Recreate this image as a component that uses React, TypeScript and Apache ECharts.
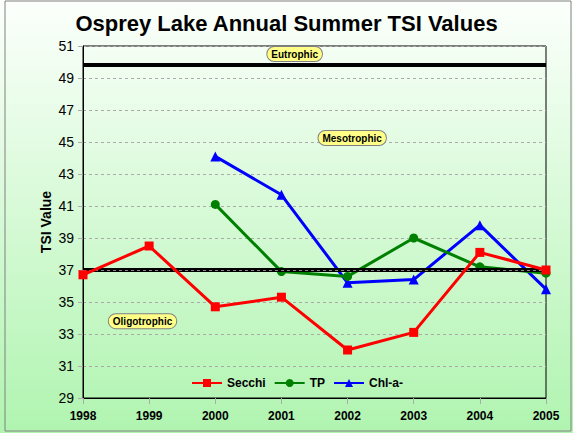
import React, { useEffect, useRef } from "react";
import * as echarts from "echarts";

const years = [1998, 1999, 2000, 2001, 2002, 2003, 2004, 2005];
const secchi = [36.7, 38.5, 34.7, 35.3, 32.0, 33.1, 38.1, 37.0];
const tp = [null, null, 41.1, 36.9, 36.6, 39.0, 37.2, 36.8];
const chla = [null, null, 44.1, 41.7, 36.2, 36.4, 39.8, 35.8];
const eutrophicLine = 49.8;
const oligotrophicLine = 37.0;
const zoneLabels = [
  { name: "Eutrophic", x: 2001.2, y: 50.5 },
  { name: "Mesotrophic", x: 2002.07, y: 45.25 },
  { name: "Oligotrophic", x: 1998.9, y: 33.8 },
];

const FONT = "'Liberation Sans', Arial, sans-serif";

function pairs(vals: (number | null)[]) {
  return years.map((y, i) => [y, vals[i]]).filter((p) => p[1] !== null);
}

export default function App() {
  const ref = useRef<HTMLDivElement>(null);
  useEffect(() => {
    const chart = echarts.init(ref.current!, undefined, { renderer: "svg" });
    const labelStyle = {
      show: true,
      position: "inside",
      formatter: "{b}",
      color: "#000",
      fontFamily: FONT,
      fontWeight: "bold",
      fontSize: 10,
      backgroundColor: "#ffff88",
      borderColor: "#808080",
      borderWidth: 1,
      borderRadius: 8,
      padding: [2, 4, 2, 4],
    };
    chart.setOption({
      animation: false,
      backgroundColor: new echarts.graphic.LinearGradient(0, 0, 0, 1, [
        { offset: 0, color: "#fcfffc" },
        { offset: 1, color: "#b0f4b0" },
      ]),
      graphic: [
        {
          type: "rect",
          shape: { x: 5, y: 1, width: 566, height: 430 },
          style: { fill: "none", stroke: "#808080", lineWidth: 1 },
          silent: true,
        },
      ],
      title: {
        text: "Osprey Lake Annual Summer TSI Values",
        left: "center",
        top: 7,
        textStyle: { fontFamily: FONT, fontSize: 22, fontWeight: "bold", color: "#000" },
      },
      legend: {
        left: 186,
        top: 372,
        itemWidth: 30,
        itemHeight: 10,
        itemGap: 8,
        textStyle: { fontFamily: FONT, fontSize: 12, fontWeight: "bold", color: "#000" },
        data: ["Secchi", "TP", "Chl-a-"],
      },
      grid: {
        left: 83,
        right: 27,
        top: 46,
        bottom: 35,
        show: true,
        borderColor: "#000",
        borderWidth: 1,
        backgroundColor: "transparent",
      },
      xAxis: {
        type: "value",
        min: 1998,
        max: 2005,
        interval: 1,
        axisLine: { lineStyle: { color: "#000", width: 1 } },
        axisTick: { show: true, length: 6, lineStyle: { color: "#aaa" } },
        splitLine: { show: false },
        axisLabel: {
          formatter: (v: number) => String(v),
          fontFamily: FONT,
          fontSize: 12,
          fontWeight: "bold",
          color: "#000",
          margin: 12,
        },
      },
      yAxis: {
        type: "value",
        min: 29,
        max: 51,
        interval: 2,
        name: "TSI Value",
        nameLocation: "middle",
        nameGap: 30,
        nameMoveOverlap: false,
        nameTextStyle: { fontFamily: FONT, fontSize: 14, fontWeight: "bold", color: "#000" },
        axisLine: { show: true, lineStyle: { color: "#000", width: 1 } },
        axisTick: { show: true, length: 5, lineStyle: { color: "#aaa" } },
        splitLine: { show: true, lineStyle: { color: "#aaa", type: [3, 3], width: 1 } },
        axisLabel: { fontFamily: FONT, fontSize: 14, color: "#000", margin: 9 },
      },
      series: [
        {
          name: "Secchi",
          type: "line",
          data: pairs(secchi),
          symbol: "rect",
          symbolSize: 9,
          lineStyle: { color: "#ff0000", width: 3 },
          itemStyle: { color: "#ff0000" },
          z: 5,
          markLine: {
            silent: true,
            symbol: "none",
            label: { show: false },
            data: [
              { yAxis: eutrophicLine, lineStyle: { color: "#000", width: 4, type: "solid" } },
              { yAxis: oligotrophicLine, lineStyle: { color: "#000", width: 4, type: "solid" } },
              { yAxis: oligotrophicLine, lineStyle: { color: "#888", width: 1, type: [3, 3] } },
            ],
          },
          markPoint: {
            silent: true,
            symbol: "rect",
            symbolSize: 1,
            itemStyle: { color: "transparent" },
            label: labelStyle,
            data: zoneLabels.map((z) => ({ name: z.name, coord: [z.x, z.y] })),
          },
        },
        {
          name: "TP",
          type: "line",
          data: pairs(tp),
          symbol: "circle",
          symbolSize: 9,
          lineStyle: { color: "#008000", width: 3 },
          itemStyle: { color: "#008000" },
          z: 4,
        },
        {
          name: "Chl-a-",
          type: "line",
          data: pairs(chla),
          symbol: "triangle",
          symbolSize: 10,
          lineStyle: { color: "#0000ff", width: 3 },
          itemStyle: { color: "#0000ff" },
          z: 3,
        },
      ],
    });
    return () => chart.dispose();
  }, []);
  return (
    <div
      ref={ref}
      style={{ position: "fixed", left: 0, top: 0, width: 573, height: 433 }}
    />
  );
}
